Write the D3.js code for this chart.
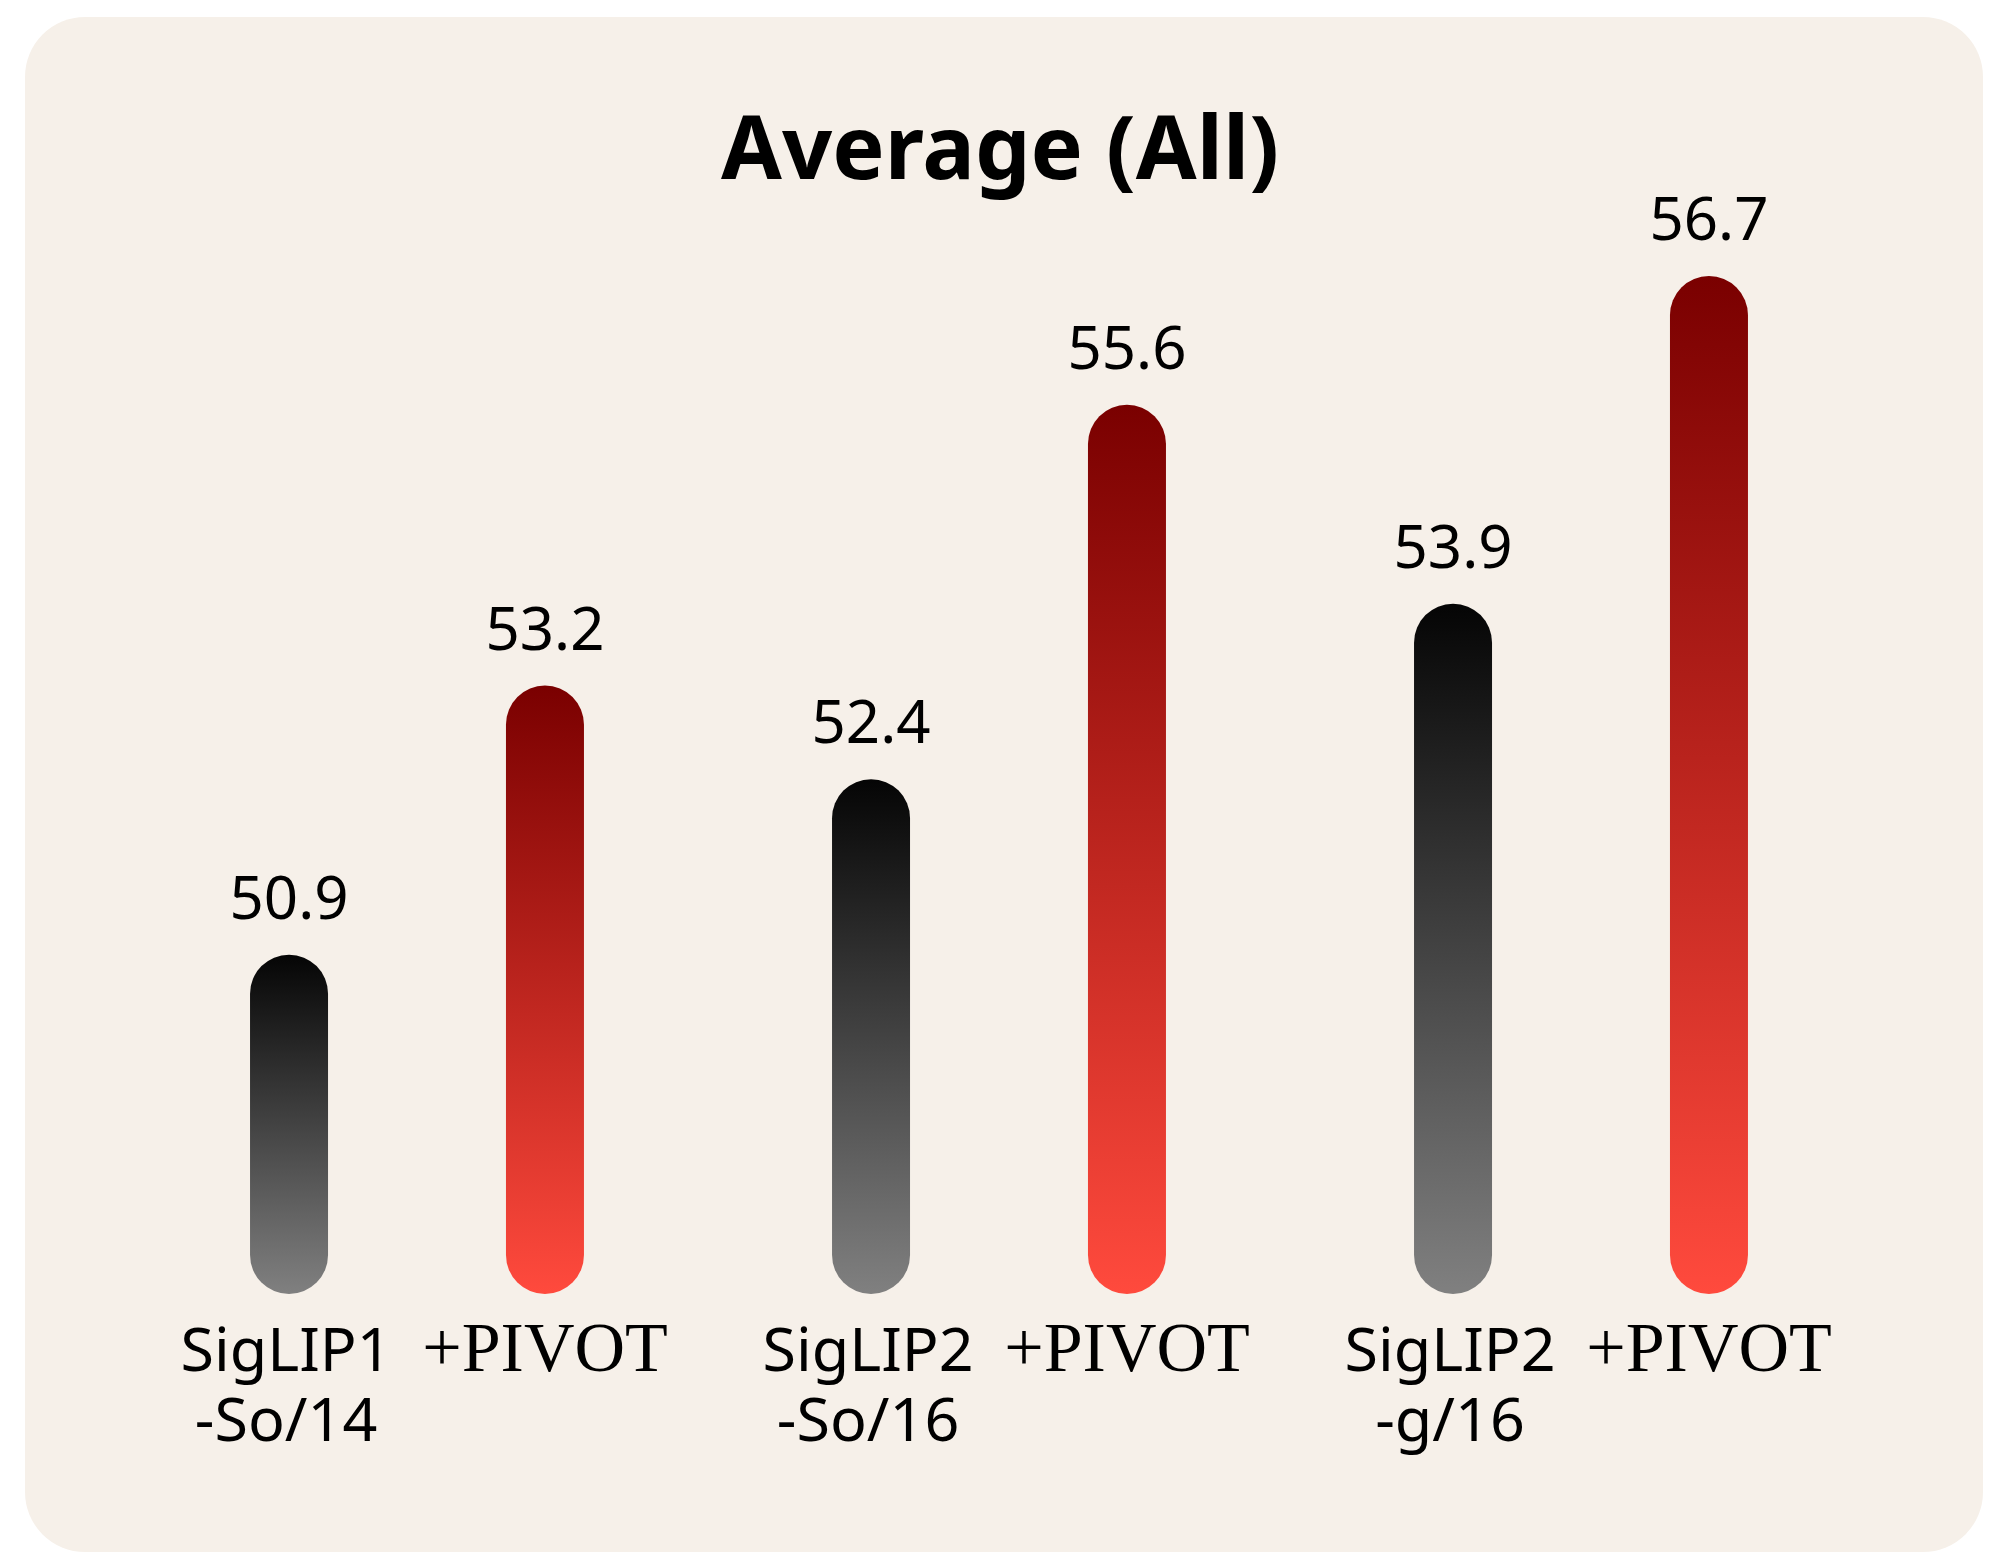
<!DOCTYPE html>
<html>
<head>
<meta charset="utf-8">
<script src="https://cdn.jsdelivr.net/npm/d3@7"></script>
<style>
  html, body { margin: 0; padding: 0; background: #ffffff; }
</style>
</head>
<body>
<script>
const groups = ["g1", "g2", "g3"];
const groupLines = [["SigLIP1", "-So/14"], ["SigLIP2", "-So/16"], ["SigLIP2", "-g/16"]];
const series = ["base", "pivot"];
const baseValues = [50.9, 52.4, 53.9];
const pivotValues = [53.2, 55.6, 56.7];
const pivotLabel = "+PIVOT";
const title = "Average (All)";

const w = 2016;
const h = 1566;
const barW = 78;
const sans = "'Noto Sans', sans-serif";

const svg = d3.select("body")
	.append("svg")
	.attr("width", w)
	.attr("height", h);

const defs = svg.append("defs");
const grads = { base: ["#050505", "#808080"], pivot: ["#7a0000", "#ff4a3d"] };
Object.keys(grads).forEach(k => {
	const g = defs.append("linearGradient")
		.attr("id", "grad-" + k)
		.attr("x1", 0).attr("y1", 0).attr("x2", 0).attr("y2", 1);
	g.append("stop").attr("offset", "0%").attr("stop-color", grads[k][0]);
	g.append("stop").attr("offset", "100%").attr("stop-color", grads[k][1]);
});

// panel
svg.append("rect")
	.attr("x", 25)
	.attr("y", 17)
	.attr("width", 1958)
	.attr("height", 1535)
	.attr("rx", 60)
	.attr("fill", "#f6f0e9");

svg.append("text")
	.attr("x", 1000)
	.attr("y", 179)
	.attr("text-anchor", "middle")
	.attr("font-family", sans)
	.attr("font-weight", "bold")
	.attr("font-size", 88)
	.attr("fill", "#000")
	.text(title);

const x0 = d3.scaleBand().domain(groups).range([126, 1872]);
const x1 = d3.scalePoint().domain(series).range([0, x0.bandwidth()]).padding(0.637);
const y = d3.scaleLinear().domain([48, 58]).range([1294, 124]);

const rows = [];
groups.forEach((g, i) => {
	rows.push({ g: g, s: "base", v: baseValues[i] });
	rows.push({ g: g, s: "pivot", v: pivotValues[i] });
});

const cx = d => x0(d.g) + x1(d.s);

svg.selectAll("rect.bar")
	.data(rows)
	.enter()
	.append("rect")
	.attr("class", "bar")
	.attr("x", d => cx(d) - barW / 2)
	.attr("y", d => y(d.v))
	.attr("width", barW)
	.attr("height", d => y(48) - y(d.v))
	.attr("rx", 39)
	.attr("fill", d => "url(#grad-" + d.s + ")");

svg.selectAll("text.val")
	.data(rows)
	.enter()
	.append("text")
	.attr("class", "val")
	.attr("x", d => cx(d))
	.attr("y", d => y(d.v) - 36)
	.attr("text-anchor", "middle")
	.attr("font-family", sans)
	.attr("font-size", 60)
	.attr("fill", "#000")
	.text(d => d.v.toFixed(1));

// x labels
groups.forEach((g, i) => {
	const bx = x0(g) + x1("base") - 3;
	const t = svg.append("text")
		.attr("x", bx)
		.attr("y", 1371)
		.attr("text-anchor", "middle")
		.attr("font-family", sans)
		.attr("font-size", 61)
		.attr("fill", "#000");
	groupLines[i].forEach((line, j) => {
		t.append("tspan")
			.attr("x", bx)
			.attr("dy", j === 0 ? 0 : 70)
			.text(line);
	});
	svg.append("text")
		.attr("x", x0(g) + x1("pivot"))
		.attr("y", 1371)
		.attr("text-anchor", "middle")
		.attr("font-family", "'Liberation Serif', serif")
		.attr("font-size", 70)
		.attr("fill", "#000")
		.text(pivotLabel);
});
</script>
</body>
</html>
